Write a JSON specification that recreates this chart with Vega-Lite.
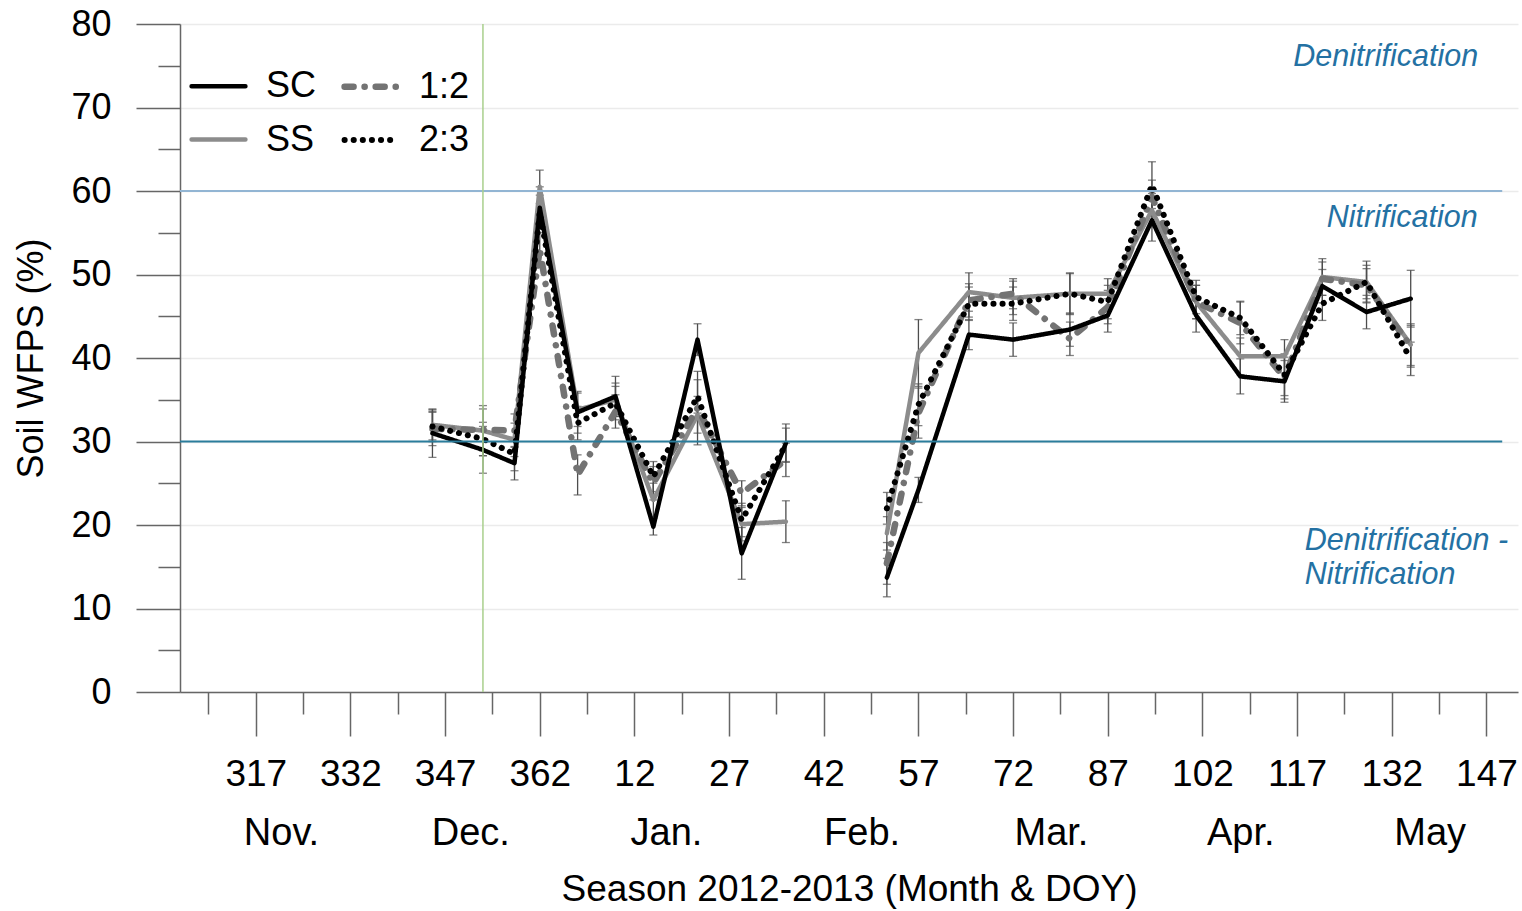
{
"$schema": "https://vega.github.io/schema/vega-lite/v6.json",
"width": 1338, "height": 668,
"autosize": {"type": "none"},
"padding": {"left": 180, "top": 24, "right": 4, "bottom": 219},
"background": "white",
"config": {"view": {"stroke": null}, "font": "Liberation Sans", "axis": {"labelFont": "Liberation Sans", "titleFont": "Liberation Sans"}},
"resolve": {"axis": {"x": "independent"}},
"datasets": {
"wfps": [
{"s":"SS","t":345,"v":32.0,"lo":30.2,"hi":33.8,"p":1},
{"s":"SS","t":353,"v":31.3,"lo":28.3,"hi":34.3,"p":1},
{"s":"SS","t":358,"v":30.2,"lo":28.2,"hi":32.2,"p":1},
{"s":"SS","t":362,"v":60.5,"lo":58.5,"hi":62.5,"p":1},
{"s":"SS","t":368,"v":33.8,"lo":31.8,"hi":35.8,"p":1},
{"s":"SS","t":374,"v":35.0,"lo":33.0,"hi":37.0,"p":1},
{"s":"SS","t":380,"v":23.0,"lo":21.0,"hi":25.0,"p":1},
{"s":"SS","t":387,"v":33.2,"lo":31.0,"hi":35.4,"p":1},
{"s":"SS","t":394,"v":20.1,"lo":18.1,"hi":22.1,"p":1},
{"s":"SS","t":401,"v":20.4,"lo":17.9,"hi":22.9,"p":1},
{"s":"SS","t":417,"v":19.0,"lo":17.0,"hi":21.0,"p":2},
{"s":"SS","t":422,"v":40.6,"lo":36.6,"hi":44.6,"p":2},
{"s":"SS","t":430,"v":47.9,"lo":45.6,"hi":50.2,"p":2},
{"s":"SS","t":437,"v":47.2,"lo":45.2,"hi":49.2,"p":2},
{"s":"SS","t":446,"v":47.7,"lo":45.2,"hi":50.2,"p":2},
{"s":"SS","t":452,"v":47.7,"lo":45.9,"hi":49.5,"p":2},
{"s":"SS","t":459,"v":57.7,"lo":55.7,"hi":59.7,"p":2},
{"s":"SS","t":466,"v":46.7,"lo":44.7,"hi":48.7,"p":2},
{"s":"SS","t":473,"v":40.2,"lo":38.0,"hi":42.4,"p":2},
{"s":"SS","t":480,"v":40.2,"lo":38.2,"hi":42.2,"p":2},
{"s":"SS","t":486,"v":49.7,"lo":47.5,"hi":51.9,"p":2},
{"s":"SS","t":493,"v":49.1,"lo":46.6,"hi":51.6,"p":2},
{"s":"SS","t":500,"v":41.6,"lo":39.1,"hi":44.1,"p":2},
{"s":"1:2","t":345,"v":31.5,"lo":29.5,"hi":33.5,"p":1},
{"s":"1:2","t":353,"v":31.4,"lo":28.9,"hi":33.9,"p":1},
{"s":"1:2","t":358,"v":31.3,"lo":29.3,"hi":33.3,"p":1},
{"s":"1:2","t":362,"v":53.0,"lo":51.0,"hi":55.0,"p":1},
{"s":"1:2","t":368,"v":26.0,"lo":23.6,"hi":28.4,"p":1},
{"s":"1:2","t":374,"v":33.6,"lo":31.6,"hi":35.6,"p":1},
{"s":"1:2","t":380,"v":25.0,"lo":23.0,"hi":27.0,"p":1},
{"s":"1:2","t":387,"v":34.0,"lo":29.6,"hi":38.4,"p":1},
{"s":"1:2","t":394,"v":23.8,"lo":22.3,"hi":25.3,"p":1},
{"s":"1:2","t":401,"v":27.8,"lo":25.8,"hi":29.8,"p":1},
{"s":"1:2","t":417,"v":15.4,"lo":12.9,"hi":17.9,"p":2},
{"s":"1:2","t":422,"v":33.4,"lo":30.4,"hi":36.4,"p":2},
{"s":"1:2","t":430,"v":46.9,"lo":44.9,"hi":48.9,"p":2},
{"s":"1:2","t":437,"v":47.7,"lo":45.9,"hi":49.5,"p":2},
{"s":"1:2","t":446,"v":42.3,"lo":40.3,"hi":44.3,"p":2},
{"s":"1:2","t":452,"v":46.1,"lo":44.1,"hi":48.1,"p":2},
{"s":"1:2","t":459,"v":59.3,"lo":57.3,"hi":61.3,"p":2},
{"s":"1:2","t":466,"v":46.7,"lo":44.7,"hi":48.7,"p":2},
{"s":"1:2","t":473,"v":44.2,"lo":41.7,"hi":46.7,"p":2},
{"s":"1:2","t":480,"v":37.6,"lo":35.1,"hi":40.1,"p":2},
{"s":"1:2","t":486,"v":49.5,"lo":47.5,"hi":51.5,"p":2},
{"s":"1:2","t":493,"v":48.7,"lo":46.7,"hi":50.7,"p":2},
{"s":"1:2","t":500,"v":41.4,"lo":38.9,"hi":43.9,"p":2},
{"s":"SC","t":345,"v":31.0,"lo":28.1,"hi":33.9,"p":1},
{"s":"SC","t":353,"v":29.0,"lo":26.2,"hi":31.8,"p":1},
{"s":"SC","t":358,"v":27.4,"lo":25.4,"hi":29.4,"p":1},
{"s":"SC","t":362,"v":58.0,"lo":55.5,"hi":60.5,"p":1},
{"s":"SC","t":368,"v":33.5,"lo":31.0,"hi":36.0,"p":1},
{"s":"SC","t":374,"v":35.4,"lo":33.0,"hi":37.8,"p":1},
{"s":"SC","t":380,"v":19.8,"lo":18.8,"hi":20.8,"p":1},
{"s":"SC","t":387,"v":42.2,"lo":40.3,"hi":44.1,"p":1},
{"s":"SC","t":394,"v":16.6,"lo":13.5,"hi":19.7,"p":1},
{"s":"SC","t":401,"v":29.8,"lo":27.5,"hi":32.1,"p":1},
{"s":"SC","t":417,"v":13.7,"lo":11.4,"hi":16.0,"p":2},
{"s":"SC","t":422,"v":24.2,"lo":22.7,"hi":25.7,"p":2},
{"s":"SC","t":430,"v":42.8,"lo":41.0,"hi":44.6,"p":2},
{"s":"SC","t":437,"v":42.2,"lo":40.2,"hi":44.2,"p":2},
{"s":"SC","t":446,"v":43.4,"lo":41.4,"hi":45.4,"p":2},
{"s":"SC","t":452,"v":45.1,"lo":43.1,"hi":47.1,"p":2},
{"s":"SC","t":459,"v":56.5,"lo":54.0,"hi":59.0,"p":2},
{"s":"SC","t":466,"v":45.1,"lo":43.1,"hi":47.1,"p":2},
{"s":"SC","t":473,"v":37.8,"lo":35.7,"hi":39.9,"p":2},
{"s":"SC","t":480,"v":37.2,"lo":34.7,"hi":39.7,"p":2},
{"s":"SC","t":486,"v":48.6,"lo":46.6,"hi":50.6,"p":2},
{"s":"SC","t":493,"v":45.5,"lo":43.5,"hi":47.5,"p":2},
{"s":"SC","t":500,"v":47.1,"lo":43.7,"hi":50.5,"p":2},
{"s":"2:3","t":345,"v":31.8,"lo":30.0,"hi":33.6,"p":1},
{"s":"2:3","t":353,"v":30.3,"lo":28.3,"hi":32.3,"p":1},
{"s":"2:3","t":358,"v":28.5,"lo":26.5,"hi":30.5,"p":1},
{"s":"2:3","t":362,"v":57.5,"lo":55.5,"hi":59.5,"p":1},
{"s":"2:3","t":368,"v":32.2,"lo":30.2,"hi":34.2,"p":1},
{"s":"2:3","t":374,"v":34.6,"lo":32.6,"hi":36.6,"p":1},
{"s":"2:3","t":380,"v":25.8,"lo":24.0,"hi":27.6,"p":1},
{"s":"2:3","t":387,"v":35.4,"lo":33.4,"hi":37.4,"p":1},
{"s":"2:3","t":394,"v":20.6,"lo":18.6,"hi":22.6,"p":1},
{"s":"2:3","t":401,"v":29.6,"lo":27.6,"hi":31.6,"p":1},
{"s":"2:3","t":417,"v":22.0,"lo":20.1,"hi":23.9,"p":2},
{"s":"2:3","t":422,"v":34.4,"lo":31.9,"hi":36.9,"p":2},
{"s":"2:3","t":430,"v":46.5,"lo":44.5,"hi":48.5,"p":2},
{"s":"2:3","t":437,"v":46.5,"lo":44.5,"hi":48.5,"p":2},
{"s":"2:3","t":446,"v":47.7,"lo":45.3,"hi":50.1,"p":2},
{"s":"2:3","t":452,"v":46.7,"lo":44.7,"hi":48.7,"p":2},
{"s":"2:3","t":459,"v":60.7,"lo":57.9,"hi":63.5,"p":2},
{"s":"2:3","t":466,"v":47.3,"lo":45.3,"hi":49.3,"p":2},
{"s":"2:3","t":473,"v":44.8,"lo":42.8,"hi":46.8,"p":2},
{"s":"2:3","t":480,"v":38.0,"lo":35.5,"hi":40.5,"p":2},
{"s":"2:3","t":486,"v":46.5,"lo":44.5,"hi":48.5,"p":2},
{"s":"2:3","t":493,"v":49.1,"lo":47.1,"hi":51.1,"p":2},
{"s":"2:3","t":500,"v":39.9,"lo":37.9,"hi":41.9,"p":2}
],
"notes": [
{"txt":"Denitrification","t":481.4,"v":76.0},
{"txt":"Nitrification","t":486.7,"v":56.8},
{"txt":"Denitrification -","t":483.2,"v":18.1},
{"txt":"Nitrification","t":483.2,"v":14.0}
]
},
"layer": [
{
"data": {"name": "wfps"},
"mark": {"type": "rule", "color": "#4d4d4d", "strokeWidth": 1.3},
"encoding": {
"x": {"field": "t", "type": "quantitative", "scale": {"domain": [305, 517], "nice": false, "zero": false}, "axis": null},
"y": {"field": "lo", "type": "quantitative", "scale": {"domain": [0, 80], "nice": false}, "title": "Soil WFPS (%)",
"axis": {
"values": [0,5,10,15,20,25,30,35,40,45,50,55,60,65,70,75,80],
"labelExpr": "datum.value % 10 == 0 ? datum.label : ''",
"tickSize": {"condition": {"test": "datum.value % 10 == 0", "value": 44}, "value": 22},
"gridColor": {"condition": {"test": "datum.value % 10 == 0", "value": "#ebebeb"}, "value": "transparent"},
"grid": true, "gridWidth": 1.5,
"domainColor": "#666666", "domainWidth": 1.5, "tickColor": "#666666", "tickWidth": 1.5,
"labelFontSize": 36, "labelColor": "#000000", "labelPadding": 25,
"titleFontSize": 36, "titleFontWeight": "normal", "titleColor": "#000000", "titlePadding": 20
}},
"y2": {"field": "hi"}
}
},
{
"data": {"name": "wfps"},
"mark": {"type": "tick", "orient": "horizontal", "color": "#4d4d4d", "size": 8, "thickness": 1.3},
"encoding": {
"x": {"field": "t", "type": "quantitative", "scale": {"domain": [305, 517], "nice": false, "zero": false}, "axis": null},
"y": {"field": "lo", "type": "quantitative", "scale": {"domain": [0, 80], "nice": false}, "title": "Soil WFPS (%)"}
}
},
{
"data": {"name": "wfps"},
"mark": {"type": "tick", "orient": "horizontal", "color": "#4d4d4d", "size": 8, "thickness": 1.3},
"encoding": {
"x": {"field": "t", "type": "quantitative", "scale": {"domain": [305, 517], "nice": false, "zero": false}, "axis": null},
"y": {"field": "hi", "type": "quantitative", "scale": {"domain": [0, 80], "nice": false}, "title": "Soil WFPS (%)"}
}
},
{
"data": {"name": "wfps"},
"mark": {"type": "line", "strokeCap": "round", "strokeJoin": "round"},
"encoding": {
"x": {"field": "t", "type": "quantitative", "scale": {"domain": [305, 517], "nice": false, "zero": false},
"axis": {
"orient": "bottom",
"values": [309.5,317,324.5,332,339.5,347,354.5,362,369.5,377,384.5,392,399.5,407,414.5,422,429.5,437,444.5,452,459.5,467,474.5,482,489.5,497,504.5,512],
"labelExpr": "datum.value % 15 == 2 ? '' + (datum.value > 365 ? datum.value - 365 : datum.value) : ''",
"tickSize": {"condition": {"test": "datum.value % 15 == 2", "value": 44}, "value": 22},
"tickColor": "#666666", "tickWidth": 1.5, "domainColor": "#666666", "domainWidth": 1.5,
"labelFontSize": 37, "labelColor": "#000000", "labelPadding": 20, "labelFlush": false, "labelOverlap": false, "labelBound": false,
"grid": false, "title": null
}},
"y": {"field": "v", "type": "quantitative", "scale": {"domain": [0, 80], "nice": false}, "title": "Soil WFPS (%)"},
"detail": {"field": "p", "type": "nominal"},
"color": {"field": "s", "type": "nominal",
"scale": {"domain": ["SC", "SS", "1:2", "2:3"], "range": ["#000000", "#8c8c8c", "#737373", "#000000"]},
"legend": {"orient": "none", "legendX": 8, "legendY": 32, "columns": 2, "title": null, "symbolType": "stroke", "symbolSize": 2900, "labelFontSize": 36, "labelColor": "#000000", "labelFont": "Liberation Sans", "rowPadding": 5, "columnPadding": 14, "labelOffset": 17, "padding": 0,
"encode": {"symbols": {"update": {"strokeCap": {"value": "round"}}}}}},
"strokeDash": {"field": "s", "type": "nominal",
"scale": {"domain": ["SC", "SS", "1:2", "2:3"], "range": [[1, 0], [1, 0], [9, 11, 0.1, 11], [0.1, 9]]},
"legend": {"orient": "none", "legendX": 8, "legendY": 32, "columns": 2, "title": null, "symbolType": "stroke", "symbolSize": 2900, "labelFontSize": 36, "labelColor": "#000000", "labelFont": "Liberation Sans", "rowPadding": 5, "columnPadding": 14, "labelOffset": 17, "padding": 0,
"encode": {"symbols": {"update": {"strokeCap": {"value": "round"}}}}}},
"strokeWidth": {"field": "s", "type": "nominal",
"scale": {"type": "ordinal", "domain": ["SC", "SS", "1:2", "2:3"], "range": [4.5, 4.5, 6.5, 6]},
"legend": {"orient": "none", "legendX": 8, "legendY": 32, "columns": 2, "title": null, "symbolType": "stroke", "symbolSize": 2900, "labelFontSize": 36, "labelColor": "#000000", "labelFont": "Liberation Sans", "rowPadding": 5, "columnPadding": 14, "labelOffset": 17, "padding": 0,
"encode": {"symbols": {"update": {"strokeCap": {"value": "round"}}}}}}
}
},
{
"data": {"values": [{}]},
"mark": {"type": "rule", "color": "#92b5d3", "strokeWidth": 2},
"encoding": {
"x": {"datum": 305, "type": "quantitative", "scale": {"domain": [305, 517], "nice": false, "zero": false}, "axis": null},
"x2": {"datum": 514.5},
"y": {"datum": 60, "type": "quantitative", "scale": {"domain": [0, 80], "nice": false}, "title": "Soil WFPS (%)"}
}
},
{
"data": {"values": [{}]},
"mark": {"type": "rule", "color": "#2a7d9c", "strokeWidth": 2},
"encoding": {
"x": {"datum": 305, "type": "quantitative", "scale": {"domain": [305, 517], "nice": false, "zero": false}, "axis": null},
"x2": {"datum": 514.5},
"y": {"datum": 30, "type": "quantitative", "scale": {"domain": [0, 80], "nice": false}, "title": "Soil WFPS (%)"}
}
},
{
"data": {"values": [{}]},
"mark": {"type": "rule", "color": "#a9cf8c", "strokeWidth": 1.5},
"encoding": {
"x": {"datum": 353, "type": "quantitative", "scale": {"domain": [305, 517], "nice": false, "zero": false},
"axis": {
"orient": "bottom",
"values": [321, 351, 382, 413, 443, 473, 503],
"labelExpr": "datum.value < 330 ? 'Nov.' : datum.value < 360 ? 'Dec.' : datum.value < 390 ? 'Jan.' : datum.value < 420 ? 'Feb.' : datum.value < 450 ? 'Mar.' : datum.value < 480 ? 'Apr.' : 'May'",
"ticks": false, "domain": false, "grid": false,
"labelFontSize": 38, "labelColor": "#000000", "labelPadding": 122, "labelFlush": false, "labelOverlap": false,
"title": "Season 2012-2013 (Month & DOY)", "titleFontSize": 37, "titleFontWeight": "normal", "titleColor": "#000000", "titlePadding": 19
}}
}
},
{
"data": {"name": "notes"},
"mark": {"type": "text", "align": "left", "baseline": "middle", "fontStyle": "italic", "fontSize": 30.5, "color": "#2471a3", "font": "Liberation Sans"},
"encoding": {
"x": {"field": "t", "type": "quantitative", "scale": {"domain": [305, 517], "nice": false, "zero": false}, "axis": null},
"y": {"field": "v", "type": "quantitative", "scale": {"domain": [0, 80], "nice": false}, "title": "Soil WFPS (%)"},
"text": {"field": "txt"}
}
}
]
}
